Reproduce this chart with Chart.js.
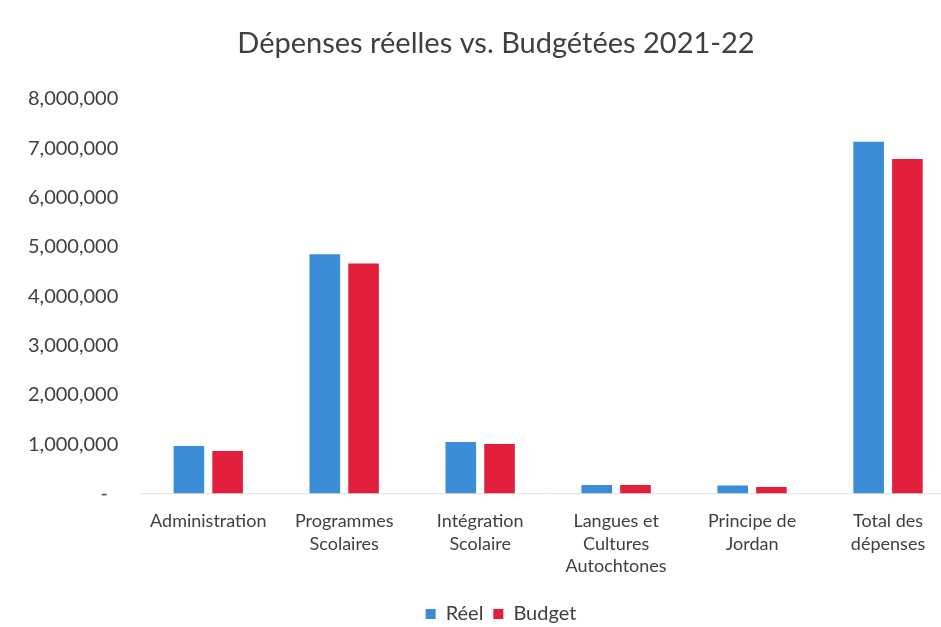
<!DOCTYPE html>
<html>
<head>
<meta charset="utf-8">
<script src="https://cdn.jsdelivr.net/npm/chart.js@4"></script>
<style>
  html, body { margin: 0; padding: 0; background: #fff; overflow: hidden; }
  #wrap { width: 960px; height: 634px; }
</style>
</head>
<body>
<div id="wrap"><canvas id="chart"></canvas></div>
<script>
const categories = [
  'Administration',
  ['Programmes', 'Scolaires'],
  ['Intégration', 'Scolaire'],
  ['Langues et', 'Cultures', 'Autochtones'],
  ['Principe de', 'Jordan'],
  ['Total des', 'dépenses']
];
const reel = [960000, 4850000, 1040000, 170000, 160000, 7130000];
const budget = [860000, 4660000, 1000000, 170000, 130000, 6780000];

const textColor = '#404040';
const fontFamily = 'Lato, "Open Sans", sans-serif';

// nudge title and legend to the right of the canvas centre
const shiftBlocks = {
  id: 'shiftBlocks',
  afterLayout(chart) {
    chart.titleBlock.left += 15;
    chart.titleBlock.right += 15;
    chart.legend.left += 20;
    chart.legend.right += 20;
  }
};

const ctx = document.getElementById('chart').getContext('2d');
new Chart(ctx, {
  type: 'bar',
  data: {
    labels: categories,
    datasets: [
      { label: 'Réel', data: reel, backgroundColor: '#3b8dd7' },
      { label: 'Budget', data: budget, backgroundColor: '#e21f3b' }
    ]
  },
  plugins: [shiftBlocks],
  options: {
    responsive: true,
    maintainAspectRatio: false,
    animation: false,
    layout: { padding: { left: 6, right: 4, top: 0, bottom: 0 } },
    datasets: {
      bar: { categoryPercentage: 0.57, barPercentage: 0.79 }
    },
    plugins: {
      title: {
        display: true,
        text: 'Dépenses réelles vs. Budgétées 2021-22',
        color: textColor,
        font: { family: fontFamily, size: 29, weight: 'normal' },
        padding: { top: 26, bottom: 38 }
      },
      legend: {
        position: 'bottom',
        labels: {
          color: textColor,
          font: { family: fontFamily, size: 20 },
          boxWidth: 10,
          boxHeight: 10,
          padding: 10
        }
      },
      tooltip: { enabled: false }
    },
    scales: {
      x: {
        grid: { display: false, drawTicks: false },
        border: { color: '#e4e4e4' },
        ticks: {
          color: textColor,
          font: { family: fontFamily, size: 18, lineHeight: 1.27 },
          maxRotation: 0,
          autoSkip: false,
          padding: 16
        }
      },
      y: {
        min: 0,
        max: 8000000,
        grid: { display: false, drawTicks: false },
        border: { display: false },
        ticks: {
          stepSize: 1000000,
          color: textColor,
          font: { family: fontFamily, size: 20 },
          padding: 22,
          callback: v => v === 0 ? '-  ' : v.toLocaleString('en-US')
        }
      }
    }
  }
});
</script>
</body>
</html>
